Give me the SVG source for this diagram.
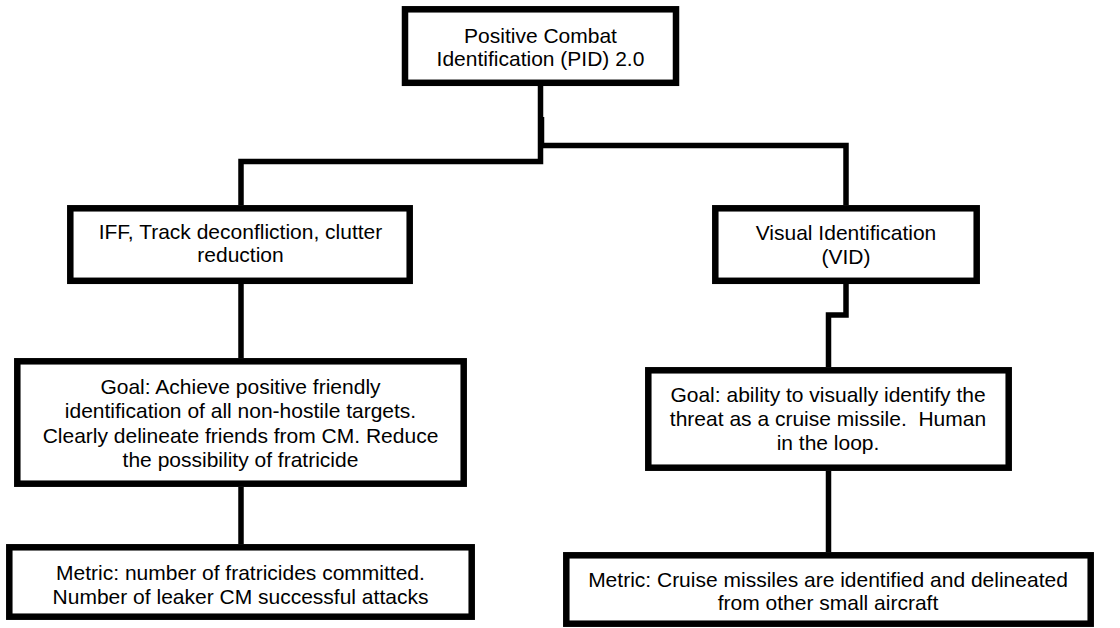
<svg xmlns="http://www.w3.org/2000/svg" width="1120" height="628" viewBox="0 0 1120 628">
  <style>
    .box { fill: #ffffff; stroke: #000000; stroke-width: 6.5; }
    .link { fill: none; stroke: #000000; stroke-width: 5.5; stroke-linejoin: miter; }
    .label { font-family: "Liberation Sans", Arial, sans-serif; font-size: 21px; fill: #000000; text-anchor: middle; }
  </style>
  <rect width="1120" height="628" fill="#ffffff"/>

  <!-- connectors -->
  <g id="connectors">
    <path class="link" d="M540.5 86 V161.5 H241 V205"/>
    <path class="link" d="M541.5 117 V145.5 H846 V205"/>
    <path class="link" d="M241 284 V358"/>
    <path class="link" d="M241 487 V544"/>
    <path class="link" d="M846 284 V315 H828.5 V367"/>
    <path class="link" d="M828.5 471 V552"/>
  </g>

  <!-- root -->
  <g id="pid">
    <rect class="box" x="405" y="9.3" width="271" height="73.5"/>
    <text class="label" x="540.5" y="42.5">Positive Combat</text>
    <text class="label" x="540.5" y="66">Identification (PID) 2.0</text>
  </g>

  <!-- left branch -->
  <g id="iff">
    <rect class="box" x="70.3" y="208.3" width="339.4" height="72.5"/>
    <text class="label" x="240.5" y="238.5">IFF, Track deconfliction, clutter</text>
    <text class="label" x="240.5" y="262">reduction</text>
  </g>
  <g id="iff-goal">
    <rect class="box" x="17.3" y="361.3" width="446.4" height="122.4"/>
    <text class="label" x="240.5" y="394">Goal: Achieve positive friendly</text>
    <text class="label" x="240.5" y="418">identification of all non-hostile targets.</text>
    <text class="label" x="240.5" y="442.5">Clearly delineate friends from CM. Reduce</text>
    <text class="label" x="240.5" y="466.5">the possibility of fratricide</text>
  </g>
  <g id="iff-metric">
    <rect class="box" x="9.3" y="547.3" width="462.4" height="69.4"/>
    <text class="label" x="240.5" y="579.5">Metric: number of fratricides committed.</text>
    <text class="label" x="240.5" y="603.5">Number of leaker CM successful attacks</text>
  </g>

  <!-- right branch -->
  <g id="vid">
    <rect class="box" x="715.3" y="208.3" width="261.4" height="72.5"/>
    <text class="label" x="846" y="240">Visual Identification</text>
    <text class="label" x="846" y="263.5">(VID)</text>
  </g>
  <g id="vid-goal">
    <rect class="box" x="648.3" y="370.3" width="360.4" height="97.4"/>
    <text class="label" x="828" y="401.5">Goal: ability to visually identify the</text>
    <text class="label" x="828" y="426">threat as a cruise missile.&#160; Human</text>
    <text class="label" x="828" y="450">in the loop.</text>
  </g>
  <g id="vid-metric">
    <rect class="box" x="566.3" y="555.3" width="524.4" height="68.4"/>
    <text class="label" x="828" y="586.5">Metric: Cruise missiles are identified and delineated</text>
    <text class="label" x="828" y="610">from other small aircraft</text>
  </g>
</svg>
